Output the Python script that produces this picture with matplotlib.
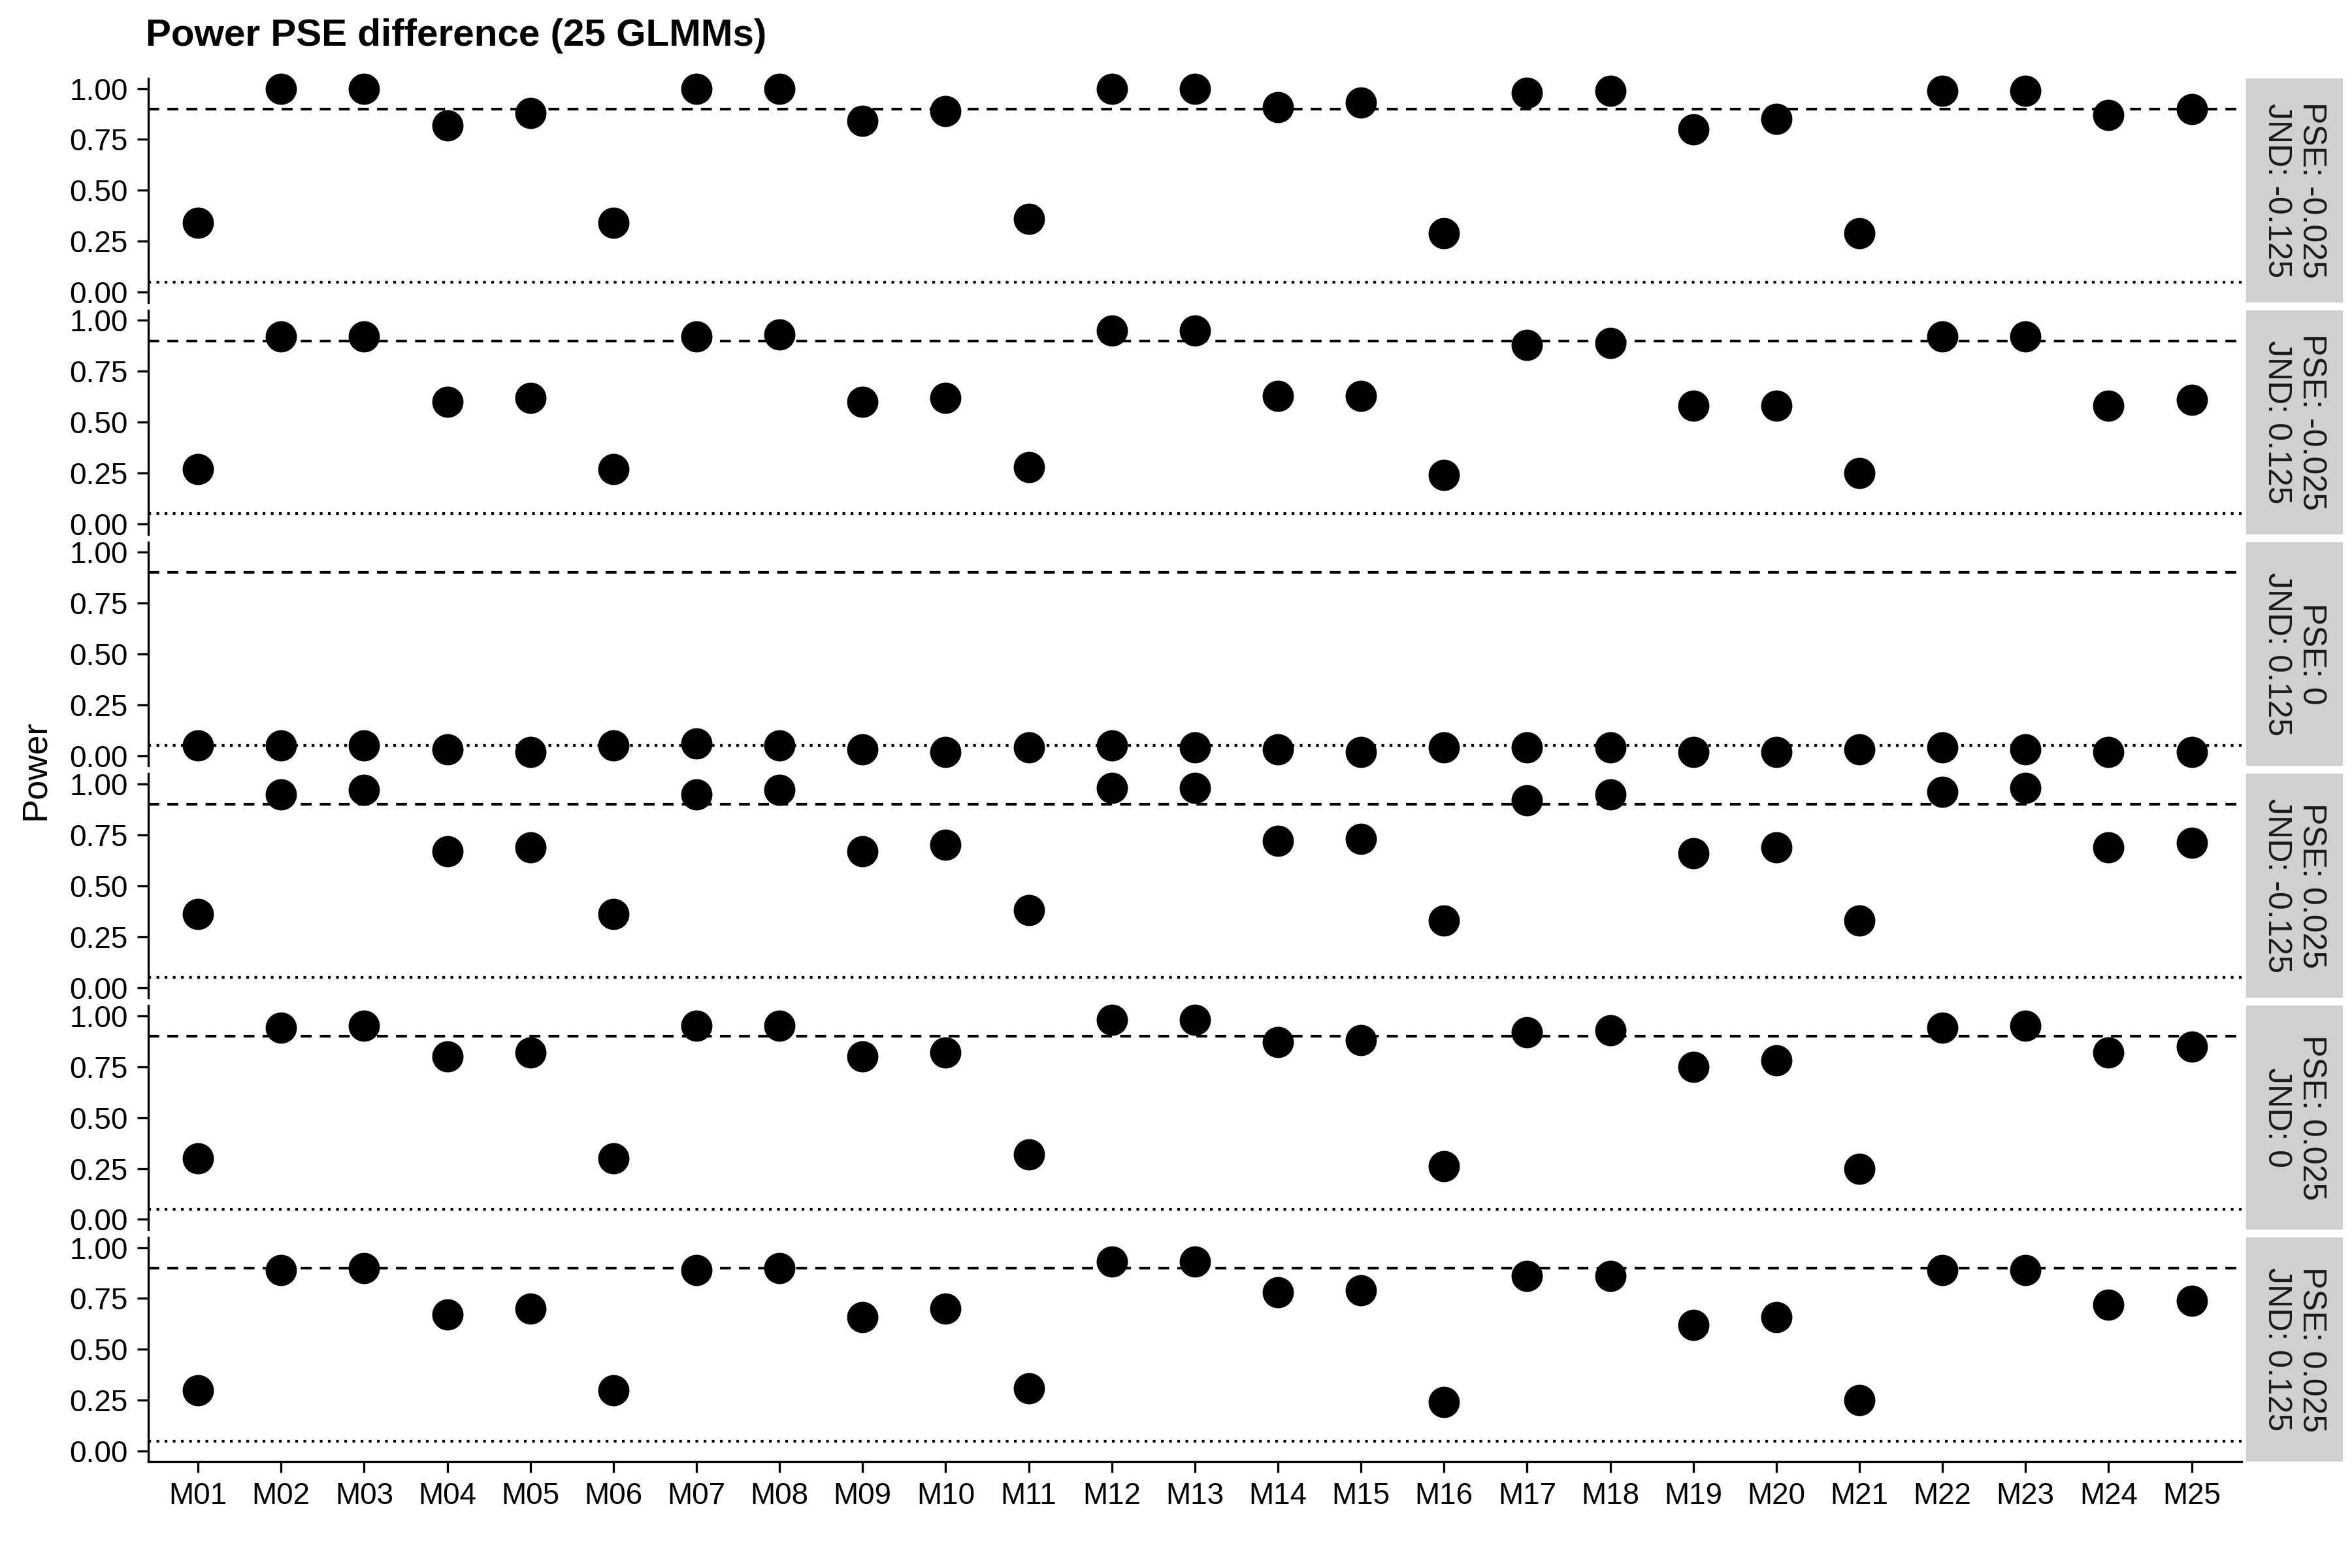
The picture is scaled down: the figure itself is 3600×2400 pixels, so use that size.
import matplotlib
matplotlib.use("Agg")
import matplotlib.pyplot as plt

plt.rcParams['font.family'] = ['Liberation Sans', 'DejaVu Sans']

models = [f"M{i:02d}" for i in range(1, 26)]
facet_labels = ["PSE: -0.025\nJND: -0.125", "PSE: -0.025\nJND: 0.125", "PSE: 0\nJND: 0.125",
                "PSE: 0.025\nJND: -0.125", "PSE: 0.025\nJND: 0", "PSE: 0.025\nJND: 0.125"]
p1 = [0.34,1.0,1.0,0.82,0.88,0.34,1.0,1.0,0.84,0.89,0.36,1.0,1.0,0.91,0.93,0.29,0.98,0.99,0.80,0.85,0.29,0.99,0.99,0.87,0.90]
p2 = [0.27,0.92,0.92,0.60,0.62,0.27,0.92,0.93,0.60,0.62,0.28,0.95,0.95,0.63,0.63,0.24,0.88,0.89,0.58,0.58,0.25,0.92,0.92,0.58,0.61]
p3 = [0.05,0.05,0.05,0.03,0.02,0.05,0.06,0.05,0.03,0.02,0.04,0.05,0.04,0.03,0.02,0.04,0.04,0.04,0.02,0.02,0.03,0.04,0.03,0.02,0.02]
p4 = [0.36,0.95,0.97,0.67,0.69,0.36,0.95,0.97,0.67,0.70,0.38,0.98,0.98,0.72,0.73,0.33,0.92,0.95,0.66,0.69,0.33,0.96,0.98,0.69,0.71]
p5 = [0.30,0.94,0.95,0.80,0.82,0.30,0.95,0.95,0.80,0.82,0.32,0.98,0.98,0.87,0.88,0.26,0.92,0.93,0.75,0.78,0.25,0.94,0.95,0.82,0.85]
p6 = [0.30,0.89,0.90,0.67,0.70,0.30,0.89,0.90,0.66,0.70,0.31,0.93,0.93,0.78,0.79,0.24,0.86,0.86,0.62,0.66,0.25,0.89,0.89,0.72,0.74]
panels = [p1, p2, p3, p4, p5, p6]

fig = plt.figure(figsize=(12, 8), dpi=300)
left, right, top, bottom = 0.063, 0.953, 0.950, 0.068
gap = 0.005
n = 6
h = (top - bottom - gap * (n - 1)) / n
xs = list(range(len(models)))
for i, (vals, lab) in enumerate(zip(panels, facet_labels)):
    y0 = top - (i + 1) * h - i * gap
    ax = fig.add_axes([left, y0, right - left, h])
    ax.scatter(xs, vals, s=110, color='black', zorder=3, clip_on=False)
    ax.axhline(0.9, color='black', ls=(0, (4, 3)), lw=1)
    ax.axhline(0.05, color='black', ls=(0, (1, 2)), lw=1)
    ax.set_ylim(-0.05, 1.05)
    ax.set_xlim(-0.6, 24.6)
    ax.set_yticks([0, 0.25, 0.5, 0.75, 1.0])
    ax.set_yticklabels(["0.00", "0.25", "0.50", "0.75", "1.00"])
    ax.tick_params(labelsize=11, length=4)
    for s in ['top', 'right']:
        ax.spines[s].set_visible(False)
    if i < n - 1:
        ax.spines['bottom'].set_visible(False)
        ax.set_xticks([])
    else:
        ax.set_xticks(xs)
        ax.set_xticklabels(models)
    sx = right + 0.002
    sax = fig.add_axes([sx, y0, 0.996 - sx, h])
    sax.set_facecolor('#D0D0D0')
    sax.set_xticks([]); sax.set_yticks([])
    for s in sax.spines.values():
        s.set_visible(False)
    sax.text(0.5, 0.5, lab, rotation=270, ha='center', va='center', fontsize=12,
             color='#1A1A1A', transform=sax.transAxes, linespacing=1.2)

fig.text(0.062, 0.977, "Power PSE difference (25 GLMMs)", fontsize=14, fontweight='bold', ha='left', va='center')
fig.text(0.015, (top + bottom) / 2, "Power", rotation=90, fontsize=13, ha='center', va='center')
fig.savefig("out.png", dpi=300)
